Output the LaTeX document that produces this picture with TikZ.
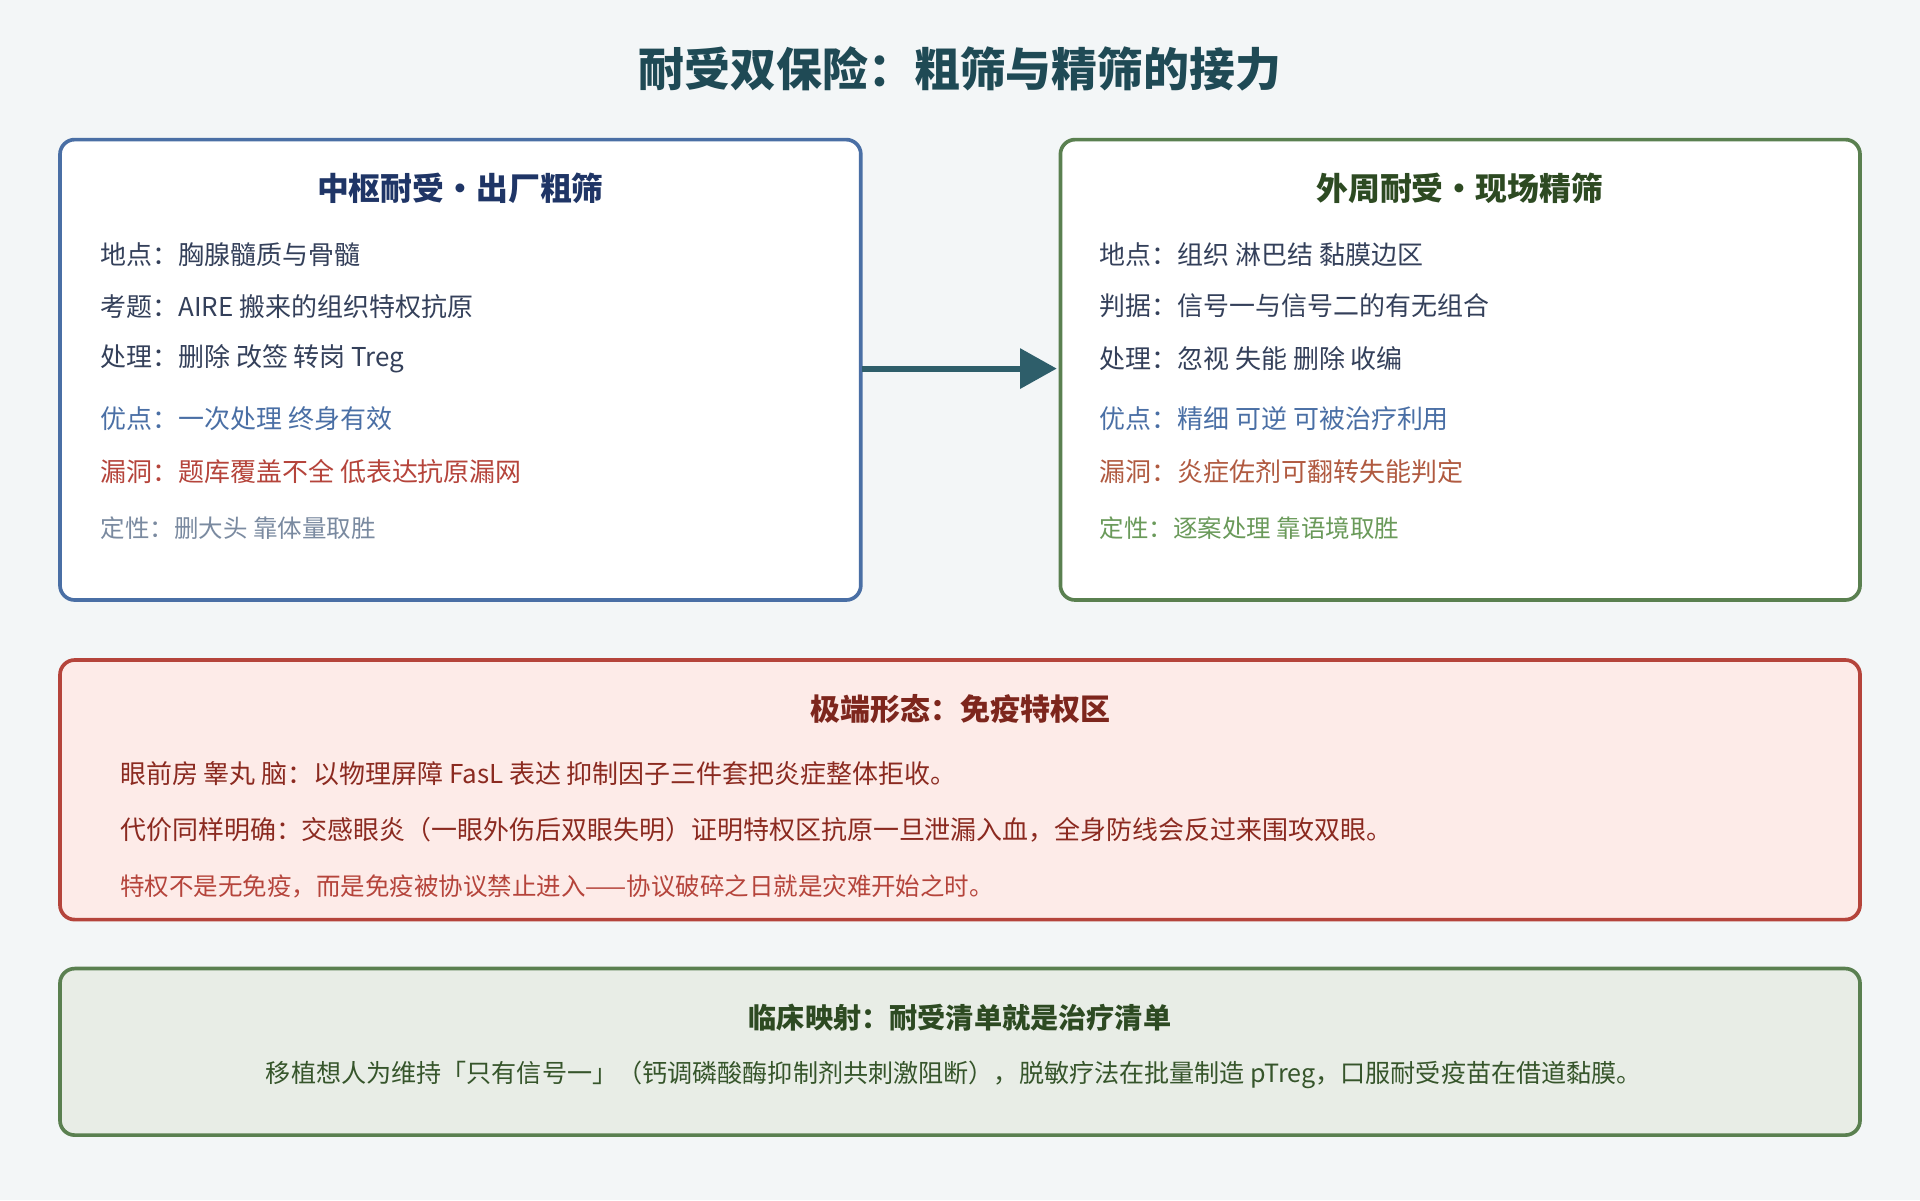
\documentclass[tikz,border=0pt]{standalone}
\usepackage{fontspec}
\setmainfont{Noto Sans CJK SC}
\usetikzlibrary{arrows.meta}
\definecolor{bg}{HTML}{F3F6F7}
\definecolor{ttl}{HTML}{1F4A55}
\definecolor{blu}{HTML}{4A6FA5}
\definecolor{navy}{HTML}{1F3566}
\definecolor{grn}{HTML}{5A8050}
\definecolor{dgrn}{HTML}{2D4A22}
\definecolor{red}{HTML}{B5443B}
\definecolor{dred}{HTML}{8B2A20}
\definecolor{body}{HTML}{34405A}
\definecolor{gry}{HTML}{7A8AA0}
\definecolor{lgrn}{HTML}{6A9A5A}
\definecolor{rust}{HTML}{B05A40}
\definecolor{arr}{HTML}{2E5E6A}
\definecolor{pink}{HTML}{FDEBE8}
\tikzset{
 box/.style={draw, line width=3pt, rounded corners=12pt},
 t/.style={anchor=west, font=\fontsize{21.2}{25}\selectfont, inner sep=0pt},
 h/.style={font=\fontsize{26}{30}\selectfont\bfseries, inner sep=0pt}
}
\begin{document}
\begin{tikzpicture}[x=1pt,y=-1pt]
\fill[bg] (0,0) rectangle (1568,980);
\useasboundingbox (0,0) rectangle (1568,980);
\node[font=\fontsize{37.5}{42}\selectfont\bfseries, text=ttl] (title) at (784,56) {耐受双保险：粗筛与精筛的接力};
% left
\draw[box, blu, fill=white] (49,114) rectangle (703,490);
\node[h, text=navy] (lh) at (376,154) {中枢耐受・出厂粗筛};
\node[t, text=body] (l1) at (82,208) {地点：胸腺髓质与骨髓};
\node[t, text=body] (l2) at (82,250) {考题：AIRE 搬来的组织特权抗原};
\node[t, text=body] (l3) at (82,293) {处理：删除 改签 转岗 Treg};
\node[t, text=blu] (l4) at (82,342) {优点：一次处理 终身有效};
\node[t, text=red] (l5) at (82,385) {漏洞：题库覆盖不全 低表达抗原漏网};
\node[t, text=gry, font=\fontsize{20}{24}\selectfont] (l6) at (82,431) {定性：删大头 靠体量取胜};
% right
\draw[box, grn, fill=white] (866,114) rectangle (1519,490);
\node[h, text=dgrn] (rh) at (1192,154) {外周耐受・现场精筛};
\node[t, text=body] (r1) at (898,208) {地点：组织 淋巴结 黏膜边区};
\node[t, text=body] (r2) at (898,250) {判据：信号一与信号二的有无组合};
\node[t, text=body] (r3) at (898,293) {处理：忽视 失能 删除 收编};
\node[t, text=blu] (r4) at (898,342) {优点：精细 可逆 可被治疗利用};
\node[t, text=rust] (r5) at (898,385) {漏洞：炎症佐剂可翻转失能判定};
\node[t, text=lgrn, font=\fontsize{20}{24}\selectfont] (r6) at (898,431) {定性：逐案处理 靠语境取胜};
\coordinate (a1) at (704,301);
\coordinate (a2) at (863,301);
\draw[arr, line width=5pt, -{Triangle[length=30pt,width=32pt]}] (a1) -- (a2);
% red box
\draw[box, red, fill=pink] (49,539) rectangle (1519,751);
\node[h, text=dred!90!black, font=\fontsize{24.5}{28}\selectfont\bfseries] (xh) at (784,579) {极端形态：免疫特权区};
\node[t, text=dred] (x1) at (98,632) {眼前房 睾丸 脑：以物理屏障 FasL 表达 抑制因子三件套把炎症整体拒收。};
\node[t, text=dred] (x2) at (98,678) {代价同样明确：交感眼炎（一眼外伤后双眼失明）证明特权区抗原一旦泄漏入血，全身防线会反过来围攻双眼。};
\node[t, text=red, font=\fontsize{20}{24}\selectfont] (x3) at (98,724) {特权不是无免疫，而是免疫被协议禁止进入——协议破碎之日就是灾难开始之时。};
% green box
\draw[box, grn, fill=grn!14!white] (49,791) rectangle (1519,927);
\node[h, text=dgrn, font=\fontsize{23}{26}\selectfont\bfseries] (ch) at (784,831) {临床映射：耐受清单就是治疗清单};
\node[inner sep=0pt, text=dgrn!80!grn, font=\fontsize{20.5}{24}\selectfont] (c1) at (779,878) {移植想人为维持「只有信号一」（钙调磷酸酶抑制剂共刺激阻断），脱敏疗法在批量制造 pTreg，口服耐受疫苗在借道黏膜。};
\end{tikzpicture}
\end{document}
